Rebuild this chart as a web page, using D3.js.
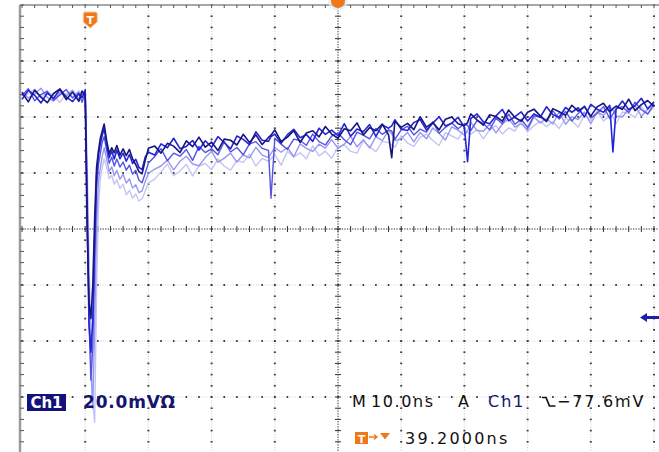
<!DOCTYPE html>
<html>
<head>
<meta charset="utf-8">
<script src="https://cdn.jsdelivr.net/npm/d3@7"></script>
<style>
  html, body { margin: 0; padding: 0; background: #fff; overflow: hidden; }
  svg { display: block; }
</style>
</head>
<body>
<svg id="scope" width="659" height="452"></svg>
<script>
// Sample times in ns (0 = screen centre); denser around the pulse edge.
const timeNs = [
  -50,-49,-48,-47,-46,-45,-44,-43,-42,-41,-40.5,-40,
  -39.7,-39.4,-39.1,-38.8,-38.5,-38.2,-37.9,-37.6,-37.3,-37,-36.6,-36.2,-35.8,-35.4,-35,-34.5,-34,-33.5,-33,-32.5,-32,-31.5,-31,-30.5,-30,
  -29,-28,-27,-26,-25,-24,-23,-22,-21,-20,-19,-18,-17,-16,-15,-14,-13,-12,-11,-10.6,
  -10,-9,-8,-7,-6,-5,-4,-3,-2,-1,0,1,2,3,4,5,6,7,8,8.5,
  9,10,11,12,13,14,15,16,17,18,19,20,20.5,
  21,22,23,24,25,26,27,28,29,30,31,32,33,34,35,36,37,38,39,40,41,42,43,43.5,
  44,45,46,47,48,49,50
];

// Persisted acquisitions of Ch1, in mV.
const acqDark = [
  2.8, -0.6, 3.6, 1.1, -0.9, 2.4, 4.0, 0.2, 2.9, -0.4, 3.3, 1.5,
  -45, -72, -78, -66, -42, -24, -18, -13.5, -11, -8.5, -14.5, -19, -17, -18.8, -16.2, -19.6, -17.4, -19.8, -17.6, -21, -23, -25.5, -26.3, -21.5, -17.2,
  -16.4, -18.9, -15.4, -16.4, -18.7, -14.5, -16.6, -13.2, -16.8, -15.0, -18.0, -13.9, -14.3, -16.0, -12.2, -15.1, -12.4, -15.8, -13.3, -12.5,
  -10.6, -14.8, -13.2, -10.9, -15.1, -11.7, -10.9, -13.1, -9.4, -12.1, -13.6, -10.2, -10.9, -8.1, -12.4, -9.8, -10.9, -8.5, -12.4, -20.5,
  -7.5, -9.7, -8.3, -10.5, -5.9, -9.6, -8.0, -10.6, -6.8, -6.0, -8.4, -9.1, -8.0,
  -4.9, -7.0, -8.9, -5.2, -5.8, -7.5, -3.5, -6.2, -7.5, -4.3, -3.2, -5.6, -7.5, -3.0, -4.1, -5.4, -1.8, -3.9, -2.3, -5.7, -2.4, -1.1, -4.2, -3.0,
  -2.1, -3.3, 0.4, -3.7, -1.6, -0.1, -2.2
];
const acqBright = [
  0.3, 3.5, 1.8, -1.0, 2.6, 0.6, 3.9, 1.2, -0.5, 2.2, 0.9, 3.7,
  -38, -80, -90, -78, -50, -27, -19.5, -15.5, -12.5, -10, -16, -20.5, -18.2, -21, -17.8, -20.9, -18.9, -21.8, -19.4, -22.6, -21.1, -24.0, -24.8, -20.3, -18.6,
  -19.6, -15.6, -17.0, -13.6, -17.3, -16.5, -14.4, -17.8, -14.5, -16.8, -13.0, -15.1, -17.4, -12.8, -14.0, -15.9, -11.3, -14.3, -14.7, -13.0,
  -12.1, -15.4, -12.3, -10.4, -13.4, -12.3, -14.7, -10.0, -12.2, -10.7, -12.7, -8.4, -12.9, -10.3, -11.3, -8.7, -12.9, -8.8, -10.0, -9.2,
  -7.0, -10.4, -10.8, -8.0, -6.9, -10.7, -8.2, -5.9, -9.2, -8.2, -6.1, -9.7, -22.0,
  -6.6, -4.9, -7.7, -8.4, -5.6, -3.3, -7.4, -5.9, -4.2, -7.4, -4.9, -6.1, -2.3, -5.2, -6.1, -2.6, -4.3, -2.7, -6.0, -1.5, -3.2, -4.3, -1.8, -18.5,
  -3.2, -0.3, -3.4, -2.0, 0.7, -3.1, -0.6
];
const acqMid = [
  1.6, 4.1, -0.2, 2.0, 3.2, 0.0, 1.9, 3.8, 0.8, 2.7, -0.7, 2.5,
  -35, -78, -100, -88, -58, -31, -23, -19, -15, -13, -18, -22.5, -20.4, -23.5, -21.0, -23.9, -22.1, -25.0, -23.2, -26.4, -25.0, -28.6, -29.5, -26.1, -22.4,
  -20.1, -17.3, -21.6, -18.9, -20.0, -17.6, -21.5, -16.5, -18.7, -17.3, -19.5, -14.8, -18.5, -16.9, -19.5, -15.6, -14.8, -17.2, -17.9, -35.0,
  -13.6, -15.7, -17.6, -13.9, -14.4, -16.1, -12.1, -14.8, -16.0, -12.8, -11.7, -14.1, -15.9, -11.4, -12.5, -13.8, -10.1, -12.2, -10.6, -11.0,
  -14.0, -10.6, -9.3, -12.4, -10.3, -11.4, -7.7, -11.8, -9.7, -8.1, -10.2, -8.4, -9.0,
  -10.9, -7.3, -8.3, -10.6, -6.4, -8.4, -5.0, -8.6, -6.8, -9.7, -5.6, -6.0, -7.7, -3.8, -6.7, -4.0, -7.4, -4.8, -2.1, -6.3, -4.7, -2.3, -6.5, -5.0,
  -3.1, -2.3, -4.4, -0.7, -3.4, -4.9, -1.4
];
const acqLight = [
  3.0, 0.8, 2.2, 4.3, 1.0, -0.3, 2.8, 1.4, 3.6, 0.5, 1.9, 3.1,
  -28, -66, -96, -110, -80, -45, -29, -24, -20, -17, -21, -25.5, -23.8, -27.0, -25.1, -28.2, -26.5, -29.6, -28.1, -31.4, -30.2, -33.0, -32.4, -29.0, -26.1,
  -24.6, -23.5, -21.4, -24.9, -21.8, -20.0, -22.8, -23.4, -20.5, -18.2, -22.2, -20.7, -18.9, -22.1, -19.5, -20.6, -16.8, -19.6, -20.5, -19.0,
  -16.9, -18.6, -16.9, -20.2, -15.6, -17.2, -18.3, -15.7, -17.1, -14.1, -17.2, -15.7, -12.9, -16.7, -14.1, -17.1, -13.0, -14.4, -10.9, -12.0,
  -14.5, -13.7, -11.5, -14.9, -11.5, -13.8, -9.9, -11.9, -14.2, -9.5, -10.7, -12.5, -11.0,
  -7.9, -10.8, -11.1, -8.5, -11.7, -8.6, -6.6, -9.6, -8.4, -10.7, -6.0, -8.1, -6.6, -8.5, -4.2, -8.6, -5.9, -6.9, -4.2, -8.4, -4.2, -5.4, -2.3, -3.5,
  -5.6, -6.0, -3.1, -2.0, -5.7, -3.2, -0.8
];
const acqPale = [
  0.5, 2.4, 3.9, 0.9, 2.9, 1.7, -0.8, 2.5, 1.2, 3.4, 2.0, 0.4,
  -20, -55, -85, -108, -115, -68, -38, -28, -24, -21, -24, -28, -26.8, -30, -28.4, -31.5, -30, -33.8, -32.2, -35, -33.5, -36, -35.2, -32.4, -29.5,
  -28.2, -25.6, -22.8, -27.0, -25.3, -22.9, -27.0, -23.5, -22.6, -24.8, -21.0, -23.6, -25.0, -21.5, -22.2, -19.3, -23.5, -20.8, -21.8, -21.0,
  -19.3, -23.2, -18.2, -20.3, -18.8, -20.9, -16.3, -19.9, -18.2, -20.7, -16.8, -15.9, -18.3, -18.9, -14.6, -16.6, -18.4, -14.7, -15.2, -16.0,
  -16.8, -12.7, -15.3, -16.5, -13.3, -12.1, -14.4, -16.2, -11.6, -12.7, -13.9, -10.2, -11.5,
  -12.2, -10.5, -13.8, -10.5, -9.1, -12.1, -9.9, -11.0, -7.2, -11.3, -9.1, -7.5, -9.5, -7.6, -10.1, -6.5, -7.4, -9.6, -5.3, -7.3, -3.9, -7.4, -5.5, -6.0,
  -8.4, -4.2, -4.6, -6.2, -2.3, -5.1, -2.3
];

// Graticule: 10 ns/div horizontally, 20 mV/div vertically (centre line at -46 mV).
const xGridNs = [-50, -40, -30, -20, -10, 0, 10, 20, 30, 40, 50];
const yGridMv = [34, 14, -6, -26, -46, -66, -86, -106, -126];
const triggerTimeNs = -39.2;
const triggerLevelMv = -77.6;

// Readout strings
const chLabel = "Ch1";
const vScaleLabel = "20.0mV\u03A9";
const timebaseLabel = "10.0ns";
const trigSourceLabel = "Ch1";
const trigLevelLabel = "\u221277.6mV";
const trigPosLabel = "39.2000ns";

const svg = d3.select("#scope");
const x = d3.scaleLinear().domain([-50, 50]).range([22, 654]);
const y = d3.scaleLinear().domain([34, -126]).range([5, 453]);

const minorX = d3.range(-50, 50.01, 2);
const minorY = d3.range(34, -126.01, -4);
const centreT = 0, centreV = -46;

svg.append("rect").attr("width", 659).attr("height", 452).attr("fill", "#fff");

const grid = svg.append("g");

// vertical division lines
xGridNs.filter(t => t !== -50 && t !== centreT).forEach(t => {
  grid.append("line")
    .attr("x1", x(t)).attr("x2", x(t)).attr("y1", y(34)).attr("y2", 452)
    .attr("stroke", "#d2d2d2").attr("stroke-width", 1.2).attr("stroke-dasharray", "1,1.6");
  grid.selectAll(null).data(minorY).enter().append("rect")
    .attr("x", x(t) - 1).attr("y", v => y(v) - 0.8)
    .attr("width", 2).attr("height", 1.6).attr("fill", "#3c3c3c");
});

// horizontal division lines
yGridMv.filter(v => v !== 34 && v !== centreV && v !== -126).forEach(v => {
  grid.append("line")
    .attr("x1", x(-50)).attr("x2", 659).attr("y1", y(v)).attr("y2", y(v))
    .attr("stroke", "#d2d2d2").attr("stroke-width", 1.2).attr("stroke-dasharray", "1,1.6");
  grid.selectAll(null).data(minorX).enter().append("rect")
    .attr("x", t => x(t) - 0.8).attr("y", y(v) - 1)
    .attr("width", 1.6).attr("height", 2).attr("fill", "#3c3c3c");
});

// centre cross with minor ticks
grid.append("line")
  .attr("x1", x(centreT)).attr("x2", x(centreT)).attr("y1", y(34)).attr("y2", 452)
  .attr("stroke", "#333").attr("stroke-width", 1).attr("stroke-dasharray", "1.3,1.3");
grid.selectAll(null).data(minorY).enter().append("line")
  .attr("x1", x(centreT) - 3).attr("x2", x(centreT) + 3)
  .attr("y1", v => y(v)).attr("y2", v => y(v))
  .attr("stroke", "#333").attr("stroke-width", 1);
grid.append("line")
  .attr("x1", x(-50)).attr("x2", 659).attr("y1", y(centreV)).attr("y2", y(centreV))
  .attr("stroke", "#333").attr("stroke-width", 1).attr("stroke-dasharray", "1.3,1.3");
grid.selectAll(null).data(minorX).enter().append("line")
  .attr("x1", t => x(t)).attr("x2", t => x(t))
  .attr("y1", y(centreV) - 3).attr("y2", y(centreV) + 3)
  .attr("stroke", "#333").attr("stroke-width", 1);

// frame: top and left edges with ticks
grid.append("line")
  .attr("x1", x(-50) - 2).attr("x2", 659).attr("y1", y(34)).attr("y2", y(34))
  .attr("stroke", "#8a8a8a").attr("stroke-width", 1.5);
grid.selectAll(null).data(minorX).enter().append("line")
  .attr("x1", t => x(t)).attr("x2", t => x(t))
  .attr("y1", y(34)).attr("y2", y(34) + 3)
  .attr("stroke", "#555").attr("stroke-width", 1);
grid.append("line")
  .attr("x1", x(-50) - 2).attr("x2", x(-50) - 2).attr("y1", y(34)).attr("y2", 452)
  .attr("stroke", "#9c9c9c").attr("stroke-width", 2.5);
grid.selectAll(null).data(minorY).enter().append("line")
  .attr("x1", x(-50) - 2).attr("x2", x(-50) + 2)
  .attr("y1", v => y(v)).attr("y2", v => y(v))
  .attr("stroke", "#555").attr("stroke-width", 1);

// waveforms, faintest first
const line = d3.line()
  .x((d, i) => x(timeNs[i]))
  .y(d => y(d));

const acquisitions = [
  { values: acqPale,   color: "#c4c4f5", width: 1.4 },
  { values: acqLight,  color: "#9898ee", width: 1.4 },
  { values: acqMid,    color: "#5454e2", width: 1.4 },
  { values: acqBright, color: "#2424d8", width: 1.6 },
  { values: acqDark,   color: "#16167e", width: 1.6 }
];
const traces = svg.append("g");
acquisitions.forEach(a => {
  const n = Math.min(a.values.length, timeNs.length);
  traces.append("path")
    .attr("d", line(a.values.slice(0, n)))
    .attr("fill", "none")
    .attr("stroke", a.color)
    .attr("stroke-width", a.width)
    .attr("stroke-linejoin", "round");
});

// markers
const orange = "#f07818";
const marks = svg.append("g");
// expansion point at top centre
marks.append("circle").attr("cx", x(0)).attr("cy", 1).attr("r", 10).attr("fill", "#dcecf8").attr("opacity", 0.7);
marks.append("circle").attr("cx", x(0)).attr("cy", 1).attr("r", 7).attr("fill", orange);
// trigger position
const tx = x(triggerTimeNs);
marks.append("path")
  .attr("d", `M${tx - 7},14 q0,-2 2,-2 h10 q2,0 2,2 v8 l-7,6 l-7,-6 z`)
  .attr("fill", orange).attr("stroke", "#f6c8a0").attr("stroke-width", 1);
marks.append("text").attr("x", tx).attr("y", 24).attr("text-anchor", "middle")
  .attr("font-family", "DejaVu Sans").attr("font-weight", "bold").attr("font-size", 11)
  .attr("fill", "#fff").text("T");
// trigger level arrow on the right edge
const ty = y(triggerLevelMv);
marks.append("path")
  .attr("d", `M640,${ty} l7,-4.5 v3 h12 v3 h-12 v3 z`)
  .attr("fill", "#1e1ea8");

// readouts
const font = "DejaVu Sans";
const navy = "#15156e";
const rd = svg.append("g");
rd.append("rect").attr("x", 27).attr("y", 394).attr("width", 39).attr("height", 17).attr("fill", "#12127a");
rd.append("text").attr("x", 46.5).attr("y", 408).attr("text-anchor", "middle")
  .attr("font-family", font).attr("font-weight", "bold").attr("font-size", 15)
  .attr("fill", "#fff").text(chLabel);
rd.append("text").attr("x", 83).attr("y", 408)
  .attr("font-family", font).attr("font-weight", "bold").attr("font-size", 17)
  .attr("letter-spacing", 0.8).attr("fill", navy).text(vScaleLabel);

function readout(txt, px, py, color, spacing) {
  rd.append("text").attr("x", px).attr("y", py)
    .attr("font-family", font).attr("font-size", 16)
    .attr("letter-spacing", spacing === undefined ? 2.2 : spacing)
    .attr("fill", color || "#111").text(txt);
}
readout("M", 352, 407, null, 0);
readout(timebaseLabel, 371, 407, null, 1.6);
readout("A", 458, 407, null, 0);
readout(trigSourceLabel, 488, 407, navy, 2);
rd.append("path").attr("d", "M542,397.5 h4 l3.5,8.5 h6")
  .attr("fill", "none").attr("stroke", "#111").attr("stroke-width", 1.7);
readout(trigLevelLabel, 557, 407, null, 1.8);

// trigger position readout
rd.append("rect").attr("x", 355).attr("y", 432).attr("width", 13).attr("height", 12).attr("fill", orange);
rd.append("text").attr("x", 361.5).attr("y", 442.5).attr("text-anchor", "middle")
  .attr("font-family", font).attr("font-weight", "bold").attr("font-size", 11)
  .attr("fill", "#fff").text("T");
rd.append("path").attr("d", "M369,437 h7 M374,434.5 l3,2.5 l-3,2.5")
  .attr("fill", "none").attr("stroke", orange).attr("stroke-width", 1.3);
rd.append("path").attr("d", "M380,433 h10 l-5,6.5 z").attr("fill", orange);
readout(trigPosLabel, 405, 444, null, 2.2);
</script>
</body>
</html>
